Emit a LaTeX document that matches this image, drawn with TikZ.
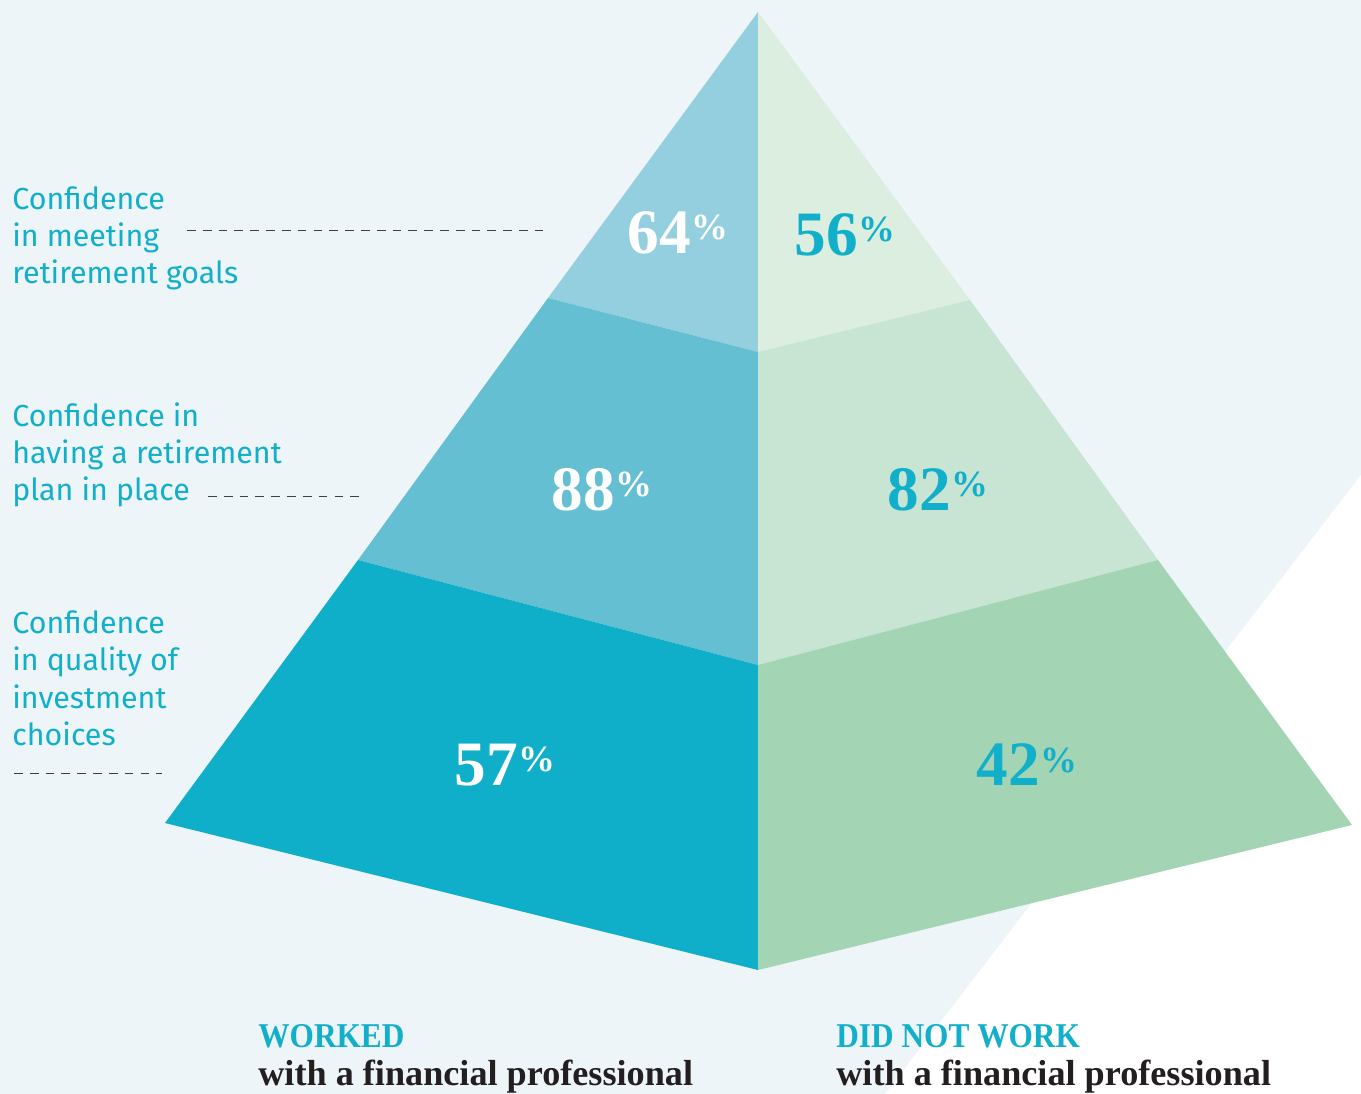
\documentclass[tikz,border=0pt]{standalone}
\usepackage{fontspec}
\setmainfont{Liberation Serif}
\setsansfont{Fira Sans}
\usepackage{tikz}
\usetikzlibrary{positioning}

\definecolor{bgblue}{HTML}{EDF5F8}
\definecolor{tealtxt}{HTML}{12AFCA}
\definecolor{blueA}{HTML}{93CFDE}
\definecolor{blueB}{HTML}{64BFD3}
\definecolor{blueC}{HTML}{0FAFCA}
\definecolor{greenA}{HTML}{DCEEDF}
\definecolor{greenB}{HTML}{C8E5D3}
\definecolor{greenC}{HTML}{A3D4B4}
\definecolor{inkdark}{HTML}{231F20}

\tikzstyle{conflabel} = [anchor=north west, inner sep=0, align=left, color=tealtxt, font=\sffamily\fontsize{17.3}{21.3}\selectfont]
\tikzstyle{leader} = [draw=black!75, line width=0.5pt, dash pattern=on 5pt off 4pt]
\tikzstyle{pctwhite} = [color=white, inner sep=0, font=\bfseries\fontsize{36}{36}\selectfont]
\tikzstyle{pctteal} = [pctwhite, color=tealtxt]
\tikzstyle{grouphead} = [anchor=base west, inner sep=0, color=tealtxt, font=\bfseries\fontsize{19.8}{20}\selectfont]
\tikzstyle{groupsub} = [anchor=base west, inner sep=0, color=inkdark, font=\bfseries\fontsize{20.6}{22}\selectfont]

\newcommand{\pctval}[1]{#1\raisebox{0.22em}{\fontsize{21}{21}\selectfont\%}}
\newcommand{\narrowhead}[1]{\scalebox{0.9}[1]{#1}}

\begin{document}
\begin{tikzpicture}[x=0.02cm, y=-0.02cm]
  \useasboundingbox (0,0) rectangle (1361,1094);
  \fill[bgblue] (0,0) rectangle (1361,1094);
  \fill[white] (1361,475) -- (885,1094) -- (1361,1094) -- cycle;

  % pyramid corners
  \coordinate (apex) at (758,12);
  \coordinate (l1) at (548,298);
  \coordinate (m1) at (758,352);
  \coordinate (r1) at (970,300);
  \coordinate (l2) at (358,560);
  \coordinate (m2) at (758,665);
  \coordinate (r2) at (1158,560);
  \coordinate (lb) at (165,823);
  \coordinate (mb) at (758,970);
  \coordinate (rb) at (1352,825);

  \fill[blueA] (apex) -- (l1) -- (m1) -- cycle;
  \fill[greenA] (apex) -- (m1) -- (r1) -- cycle;
  \fill[blueB] (l1) -- (l2) -- (m2) -- (m1) -- cycle;
  \fill[greenB] (m1) -- (m2) -- (r2) -- (r1) -- cycle;
  \fill[blueC] (l2) -- (lb) -- (mb) -- (m2) -- cycle;
  \fill[greenC] (m2) -- (mb) -- (rb) -- (r2) -- cycle;

  % values
  \node[pctwhite] (w64) at (678,233) {\pctval{64}};
  \node[pctteal] (n56) at (845,235) {\pctval{56}};
  \node[pctwhite] (w88) at (602,490) {\pctval{88}};
  \node[pctteal] (n82) at (938,490) {\pctval{82}};
  \node[pctwhite] (w57) at (505,765) {\pctval{57}};
  \node[pctteal] (n42) at (1027,765) {\pctval{42}};

  % row labels
  \node[conflabel] (goals) at (12,186) {Confidence\\in meeting\\retirement goals};
  \node[conflabel] (plan) at (12,402) {Confidence in\\having a retirement\\plan in place};
  \node[conflabel] (invest) at (12,610) {Confidence\\in quality of\\investment\\choices};

  \coordinate (g0) at (187,230);
  \coordinate (g1) at (543,230);
  \coordinate (p0) at (208,496);
  \coordinate (p1) at (363,496);
  \coordinate (i0) at (14,773);
  \coordinate (i1) at (162,773);
  \draw[leader] (g0) -- (g1);
  \draw[leader] (p0) -- (p1);
  \draw[leader] (i0) -- (i1);

  % groups
  \node[grouphead] (worked) at (258,1047) {\narrowhead{WORKED}};
  \node[groupsub] (withA) at (258,1085) {with a financial professional};
  \node[grouphead] (notworked) at (836,1047) {\narrowhead{DID NOT WORK}};
  \node[groupsub] (withB) at (836,1085) {with a financial professional};

\end{tikzpicture}
\end{document}
